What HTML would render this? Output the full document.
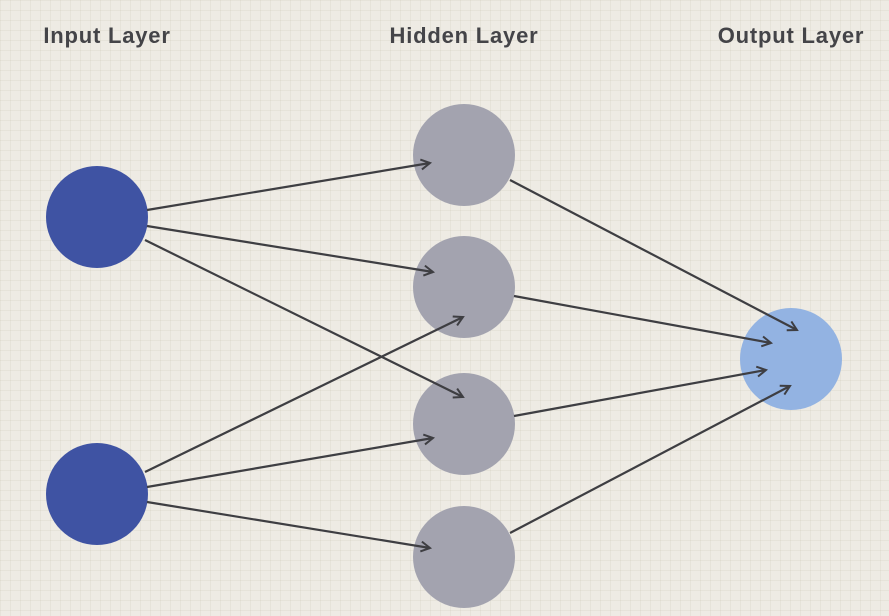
<!DOCTYPE html>
<html><head><style>
html,body{margin:0;padding:0}
body{width:889px;height:616px;overflow:hidden;background-color:#eeebe4;
background-image:linear-gradient(to right,rgba(180,170,150,0.13) 1px,transparent 1px),linear-gradient(to bottom,rgba(180,170,150,0.13) 1px,transparent 1px);
background-size:10px 10px;}
svg{position:absolute;left:0;top:0}
</style></head><body>
<svg width="889" height="616" viewBox="0 0 889 616">
<defs>
<marker id="a" markerWidth="12" markerHeight="12" refX="10" refY="6" orient="auto" markerUnits="userSpaceOnUse">
<path d="M1,1 L10,6 L1,11" fill="none" stroke="#3e3e42" stroke-width="2"/>
</marker>
</defs>
<g font-family="Liberation Sans, sans-serif" font-weight="bold" font-size="22" fill="#444448" text-anchor="middle" letter-spacing="0.8">
<text x="107" y="43">Input Layer</text>
<text x="464" y="43">Hidden Layer</text>
<text x="791" y="43">Output Layer</text>
</g>
<circle cx="97" cy="217" r="51" fill="#3f53a3"/>
<circle cx="97" cy="494" r="51" fill="#3f53a3"/>
<g fill="#a3a3af">
<circle cx="464" cy="155" r="51"/>
<circle cx="464" cy="287" r="51"/>
<circle cx="464" cy="424" r="51"/>
<circle cx="464" cy="557" r="51"/>
</g>
<circle cx="791" cy="359" r="51" fill="#93b3e2"/>
<g stroke="#3e3e42" stroke-width="2.2" marker-end="url(#a)" fill="none">
<line x1="147" y1="210" x2="430" y2="163"/>
<line x1="147" y1="226" x2="433" y2="272"/>
<line x1="145" y1="240" x2="463" y2="397"/>
<line x1="145" y1="472" x2="463" y2="317"/>
<line x1="147" y1="487" x2="433" y2="438"/>
<line x1="147" y1="502" x2="430" y2="548"/>
<line x1="510" y1="180" x2="797" y2="330"/>
<line x1="514" y1="296" x2="771" y2="343"/>
<line x1="514" y1="416" x2="766" y2="370"/>
<line x1="510" y1="533" x2="790" y2="386"/>
</g>
</svg>
</body></html>
